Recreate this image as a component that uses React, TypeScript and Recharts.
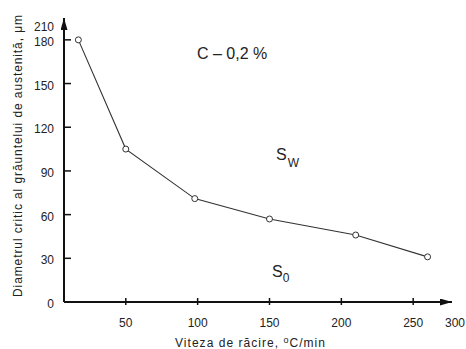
import { Line, LineChart, XAxis, YAxis } from "recharts";

// cooling rate, °C/min
const coolingRate = [17, 50, 98, 150, 210, 260];
// critical austenite grain diameter, µm
const grainDiameter = [180, 105, 71, 57, 46, 31];

const xTicks = [50, 100, 150, 200, 250];
const yTicks = [0, 30, 60, 90, 120, 150, 180];
// labels written at the arrow tips of the axes
const xEndLabel = "300";
const yEndLabel = "210";

const X_MIN = 7;
const X_MAX = 277;
const Y_MAX = 195;

const data = coolingRate.map((x, i) => ({ x, d: grainDiameter[i] }));

const FONT = "'Liberation Sans', Arial, Helvetica, sans-serif";
const INK = "#222";

function XTick(props: any) {
  const { x, y, payload } = props;
  if (payload.value === X_MAX) {
    return (
      <text x={x + 3} y={y + 25} textAnchor="middle" fontSize={12} fill={INK} fontFamily={FONT}>
        {xEndLabel}
      </text>
    );
  }
  return (
    <g>
      <line x1={x} x2={x} y1={y - 4} y2={y + 3} stroke="#111" strokeWidth={1.5} />
      <text x={x} y={y + 25} textAnchor="middle" fontSize={12} fill={INK} fontFamily={FONT}>
        {payload.value}
      </text>
    </g>
  );
}

function YTick(props: any) {
  const { x, y, payload } = props;
  if (payload.value === Y_MAX) {
    return (
      <text x={x - 10} y={y + 13} textAnchor="end" fontSize={12} fill={INK} fontFamily={FONT}>
        {yEndLabel}
      </text>
    );
  }
  return (
    <g>
      {payload.value !== 0 && (
        <line x1={x} x2={x + 7} y1={y} y2={y} stroke="#111" strokeWidth={1.5} />
      )}
      <text x={x - 10} y={y + 6} textAnchor="end" fontSize={12} fill={INK} fontFamily={FONT}>
        {payload.value}
      </text>
    </g>
  );
}

export default function App() {
  return (
    <div style={{ position: "absolute", left: 0, top: 0, width: 466, height: 349, background: "#fff" }}>
      <LineChart
        width={466}
        height={349}
        data={data}
        margin={{ top: 18, right: 14, bottom: 0, left: 0 }}
      >
        <defs>
          <marker
            id="axisArrow"
            viewBox="0 0 12 7"
            refX={12}
            refY={3.5}
            markerWidth={12}
            markerHeight={7}
            markerUnits="userSpaceOnUse"
            orient="auto-start-reverse"
          >
            <path d="M0,0 L12,3.5 L0,7 z" fill="#111" />
          </marker>
        </defs>
        <XAxis
          type="number"
          dataKey="x"
          domain={[X_MIN, X_MAX]}
          ticks={[...xTicks, X_MAX]}
          height={47}
          tickSize={0}
          tickMargin={0}
          tickLine={false}
          interval={0}
          axisLine={{ stroke: "#111", strokeWidth: 2, markerEnd: "url(#axisArrow)" }}
          tick={<XTick />}
        />
        <YAxis
          type="number"
          domain={[0, Y_MAX]}
          ticks={[...yTicks, Y_MAX]}
          width={64}
          tickSize={0}
          tickMargin={0}
          tickLine={false}
          interval={0}
          axisLine={{ stroke: "#111", strokeWidth: 2, markerStart: "url(#axisArrow)" }}
          tick={<YTick />}
        />
        <Line
          type="linear"
          dataKey="d"
          stroke="#333"
          strokeWidth={1.1}
          dot={{ r: 3, stroke: "#333", strokeWidth: 1, fill: "#fff" }}
          isAnimationActive={false}
        />
        <text x={197} y={59} fontSize={16} fill={INK} fontFamily={FONT}>
          C – 0,2 %
        </text>
        <text x={276} y={160} fontSize={16} fill={INK} fontFamily={FONT}>
          S
          <tspan fontSize={12} dx={1} dy={7}>W</tspan>
        </text>
        <text x={272} y={277} fontSize={16} fill={INK} fontFamily={FONT}>
          S
          <tspan fontSize={12} dx={0} dy={5}>0</tspan>
        </text>
        <text
          x={175}
          y={347}
          fontSize={12}
          fill={INK}
          fontFamily={FONT}
          textLength={150}
          lengthAdjust="spacing"
        >
          Viteza de răcire,{"  "}
          <tspan fontSize={9} dy={-4}>o</tspan>
          <tspan dy={4}>C/min</tspan>
        </text>
        <text
          transform="translate(22,156) rotate(-90)"
          textAnchor="middle"
          fontSize={12}
          fill={INK}
          fontFamily={FONT}
          textLength={282}
          lengthAdjust="spacing"
        >
          Diametrul critic al grăuntelui de austenită, μm
        </text>
      </LineChart>
    </div>
  );
}
